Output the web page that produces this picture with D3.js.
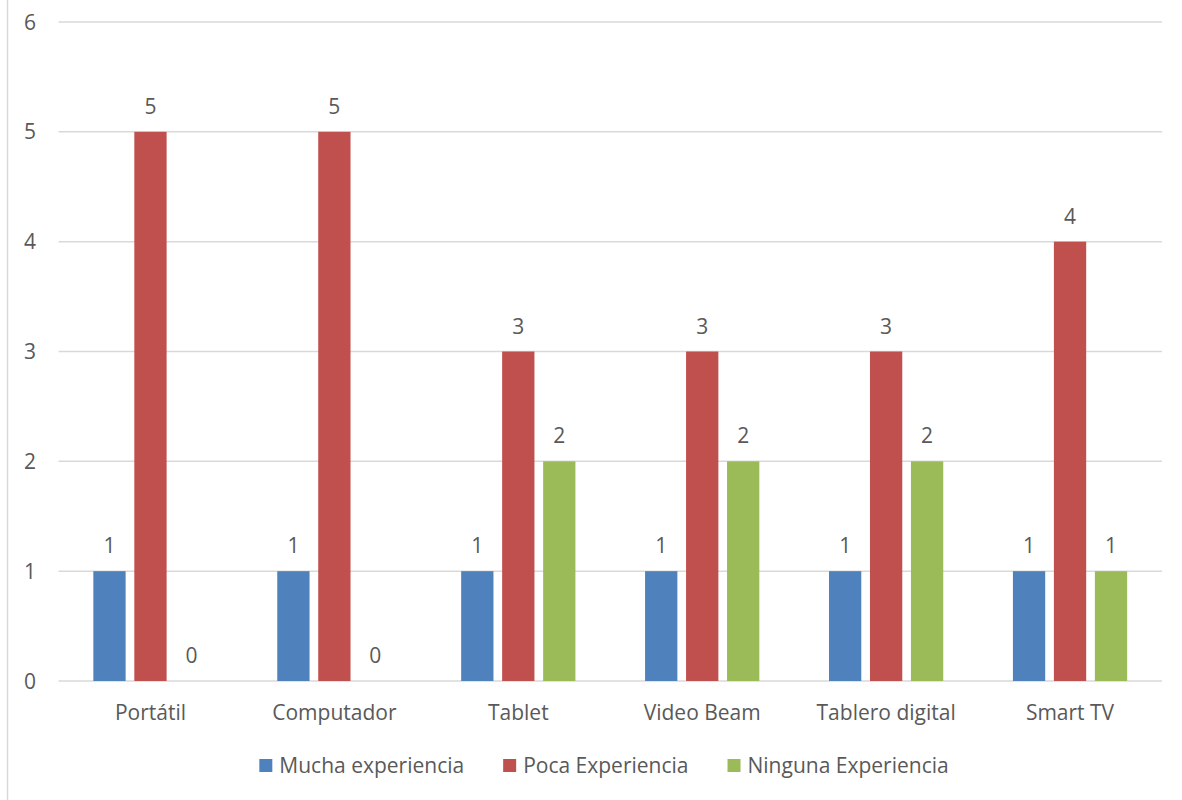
<!DOCTYPE html>
<html>
<head>
<meta charset="utf-8">
<script src="https://cdn.jsdelivr.net/npm/d3@7"></script>
<style>
  body { margin: 0; background: #fff; }
  text { font-family: "Open Sans", Lato, sans-serif; fill: #595959; }
</style>
</head>
<body>
<div id="chart"></div>
<script>
// chart data
const categories = ["Portátil", "Computador", "Tablet", "Video Beam", "Tablero digital", "Smart TV"];
const seriesNames = ["Mucha experiencia", "Poca Experiencia", "Ninguna Experiencia"];
const mucha = [1, 1, 1, 1, 1, 1];
const poca = [5, 5, 3, 3, 3, 4];
const ninguna = [0, 0, 2, 2, 2, 1];
const yTicks = [0, 1, 2, 3, 4, 5, 6];
const colors = ["#4f81bd", "#c0504d", "#9bbb59"];

const width = 1182, height = 800;
const fontSize = 21;
const plotLeft = 58.5, plotRight = 1162, plotTop = 22, plotBottom = 681;

const svg = d3.select("#chart")
  .append("svg")
  .attr("width", width)
  .attr("height", height);

// chart border (only left edge visible)
svg.append("line")
  .attr("x1", 7.5).attr("x2", 7.5)
  .attr("y1", 0).attr("y2", height)
  .attr("stroke", "#d9d9d9")
  .attr("stroke-width", 1.5);

const y = d3.scaleLinear()
  .domain([0, 6])
  .range([plotBottom, plotTop]);

const x0 = d3.scaleBand()
  .domain(categories)
  .range([plotLeft, plotRight]);

const outer = x0.bandwidth() * 0.1894;
const x1 = d3.scaleBand()
  .domain(seriesNames)
  .range([outer, x0.bandwidth() - outer])
  .paddingInner(0.212);

// gridlines
svg.append("g")
  .selectAll("line")
  .data(yTicks)
  .join("line")
  .attr("x1", plotLeft).attr("x2", plotRight)
  .attr("y1", d => y(d)).attr("y2", d => y(d))
  .attr("stroke", "#d9d9d9")
  .attr("stroke-width", 1.5);

// y axis labels
svg.append("g")
  .selectAll("text")
  .data(yTicks)
  .join("text")
  .attr("x", 36)
  .attr("y", d => y(d))
  .attr("dy", "0.36em")
  .attr("text-anchor", "end")
  .attr("font-size", fontSize)
  .text(d => d);

// x axis labels
svg.append("g")
  .selectAll("text")
  .data(categories)
  .join("text")
  .attr("x", d => x0(d) + x0.bandwidth() / 2)
  .attr("y", 720)
  .attr("text-anchor", "middle")
  .attr("font-size", fontSize)
  .text(d => d);

// bars + labels
const rows = categories.map((c, i) => ({
  cat: c,
  vals: [mucha[i], poca[i], ninguna[i]].map((v, j) => ({ name: seriesNames[j], value: v, color: colors[j] }))
}));

const groups = svg.append("g")
  .selectAll("g")
  .data(rows)
  .join("g")
  .attr("transform", d => `translate(${x0(d.cat)},0)`);

groups.selectAll("rect")
  .data(d => d.vals)
  .join("rect")
  .attr("x", d => x1(d.name))
  .attr("y", d => y(d.value))
  .attr("width", x1.bandwidth())
  .attr("height", d => y(0) - y(d.value))
  .attr("fill", d => d.color);

groups.selectAll("text")
  .data(d => d.vals)
  .join("text")
  .attr("x", d => x1(d.name) + x1.bandwidth() / 2)
  .attr("y", d => y(d.value) - 18)
  .attr("text-anchor", "middle")
  .attr("font-size", fontSize)
  .text(d => d.value);

// legend
const legend = svg.append("g");
const items = legend.selectAll("g")
  .data(seriesNames)
  .join("g");
items.append("rect")
  .attr("width", 13).attr("height", 13)
  .attr("y", 759)
  .attr("fill", (d, i) => colors[i]);
items.append("text")
  .attr("x", 20)
  .attr("y", 765.5)
  .attr("dy", "0.36em")
  .attr("font-size", fontSize)
  .text(d => d);

let widths = [];
items.each(function() { widths.push(this.getBBox().width); });
const gap = 39;
const total = d3.sum(widths) + gap * (widths.length - 1);
let pos = 604 - total / 2;
items.attr("transform", (d, i) => {
  const t = `translate(${pos},0)`;
  pos += widths[i] + gap;
  return t;
});
</script>
</body>
</html>
